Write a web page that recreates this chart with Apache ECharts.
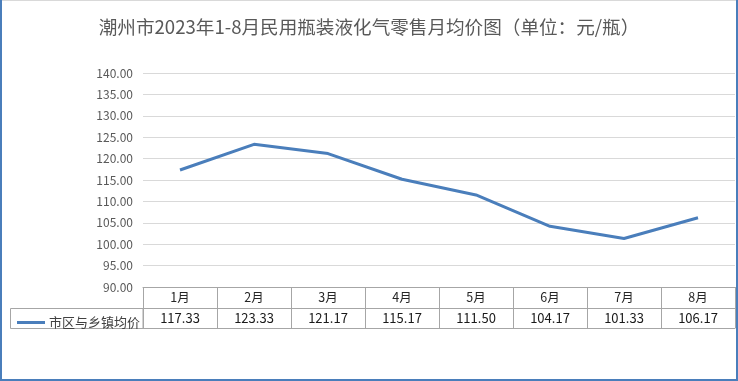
<!DOCTYPE html>
<html><head><meta charset="utf-8">
<script src="https://cdn.jsdelivr.net/npm/echarts@6/dist/echarts.min.js"></script>
<style>html,body{margin:0;padding:0;background:#fff}#c{width:738px;height:381px}</style>
</head><body><div id="c"></div>
<script>
const months = ['1月','2月','3月','4月','5月','6月','7月','8月'];
const prices = [117.33, 123.33, 121.17, 115.17, 111.50, 104.17, 101.33, 106.17];
const seriesName = '市区与乡镇均价';
const titleText = '潮州市2023年1-8月民用瓶装液化气零售月均价图（单位：元/瓶）';
const yMin = 90, yMax = 140, yStep = 5;

const chart = echarts.init(document.getElementById('c'));
const font = '"Noto Sans CJK SC", "Noto Sans", sans-serif';
const gridC = '#a6a6a6';
chart.setOption({
  animation: false,
  title: {text: titleText, left: 'center', top: 13,
    textStyle: {fontFamily: font, fontSize: 18.6, fontWeight: 'normal', color: '#595959'}},
  legend: {left: 12, top: 311, icon: 'rect', itemWidth: 28, itemHeight: 3, itemGap: 4,
    data: [seriesName],
    textStyle: {fontFamily: font, fontSize: 13, color: '#404040', padding: [0,0,0,-1]}},
  grid: {left: 143, right: 3, top: 73, bottom: 94},
  xAxis: [
    {type: 'category', data: months, position: 'bottom', boundaryGap: true,
      axisLine: {lineStyle: {color: gridC, width: 1}},
      axisTick: {show: true, length: 41, lineStyle: {color: gridC}},
      axisLabel: {margin: 4, fontFamily: font, fontSize: 12.5, color: '#262626'}},
    {type: 'category', data: prices.map(v => v.toFixed(2)), position: 'bottom', offset: 21, boundaryGap: true,
      axisLine: {lineStyle: {color: gridC, width: 1}},
      axisTick: {show: false},
      axisLabel: {margin: 4, fontFamily: font, fontSize: 13, color: '#1a1a1a'}},
    {type: 'category', data: months, position: 'bottom', offset: 41, boundaryGap: true,
      axisLine: {lineStyle: {color: gridC, width: 1}},
      axisTick: {show: false}, axisLabel: {show: false}}
  ],
  yAxis: {type: 'value', min: yMin, max: yMax, interval: yStep,
    axisLine: {show: false}, axisTick: {show: false},
    splitLine: {lineStyle: {color: '#d9d9d9'}},
    axisLabel: {margin: 10, fontFamily: font, fontSize: 12, color: '#595959',
      formatter: v => v.toFixed(2)}},
  series: [{name: seriesName, type: 'line', data: prices, xAxisIndex: 0,
    symbol: 'none', lineStyle: {color: '#4a7ebb', width: 3}, itemStyle: {color: '#4a7ebb'}}],
  graphic: [
    {type: 'rect', shape: {x: 10.5, y: 308.5, width: 132.5, height: 20}, style: {fill: 'none', stroke: gridC, lineWidth: 1}, silent: true},
    {type: 'line', shape: {x1: 0, y1: 0.5, x2: 738, y2: 0.5}, style: {stroke: '#d9d9d9', lineWidth: 1}},
    {type: 'line', shape: {x1: 1, y1: 0, x2: 1, y2: 381}, style: {stroke: '#4a7ebb', lineWidth: 2}},
    {type: 'line', shape: {x1: 737, y1: 0, x2: 737, y2: 381}, style: {stroke: '#4a7ebb', lineWidth: 2}},
    {type: 'line', shape: {x1: 0, y1: 380, x2: 738, y2: 380}, style: {stroke: '#4a7ebb', lineWidth: 2}}
  ]
});
</script></body></html>
